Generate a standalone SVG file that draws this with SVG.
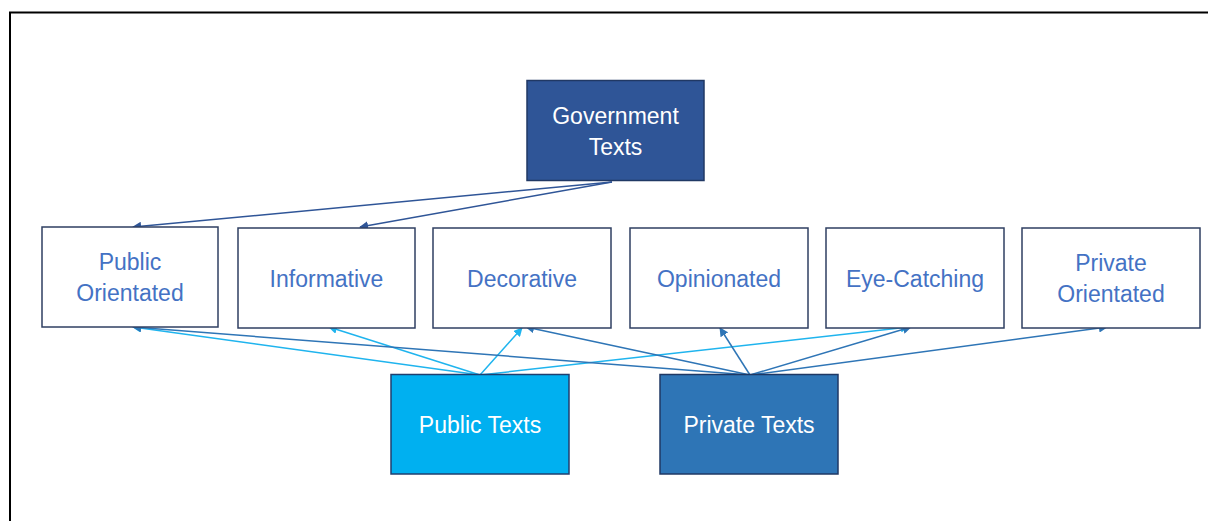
<svg xmlns="http://www.w3.org/2000/svg" width="1208" height="521" viewBox="0 0 1208 521">
<style>
.box{fill:#fff;stroke:#2F3F62;stroke-width:1.5}
.lbl{font-family:"Liberation Sans",Arial,sans-serif;font-size:23px;fill:#4472C4;text-anchor:middle}
.wl{font-family:"Liberation Sans",Arial,sans-serif;font-size:23px;fill:#fff;text-anchor:middle}
.gov{stroke:#2F5597;stroke-width:1.5;fill:none;marker-end:url(#ag)}
.pub{stroke:#1FB4EE;stroke-width:1.5;fill:none;marker-end:url(#ap)}
.pri{stroke:#2E75B6;stroke-width:1.5;fill:none;marker-end:url(#ar)}
</style>
<defs>
<marker id="ag" viewBox="0 0 10 10" refX="9" refY="5" markerWidth="6" markerHeight="6" markerUnits="strokeWidth" orient="auto"><path d="M0,0L10,5L0,10z" fill="#2F5597"/></marker>
<marker id="ap" viewBox="0 0 10 10" refX="9" refY="5" markerWidth="6" markerHeight="6" markerUnits="strokeWidth" orient="auto"><path d="M0,0L10,5L0,10z" fill="#1FB4EE"/></marker>
<marker id="ar" viewBox="0 0 10 10" refX="9" refY="5" markerWidth="6" markerHeight="6" markerUnits="strokeWidth" orient="auto"><path d="M0,0L10,5L0,10z" fill="#2E75B6"/></marker>
</defs>
<rect width="1208" height="521" fill="#fff"/>
<path d="M10,521V12.5H1208" fill="none" stroke="#000" stroke-width="2"/>
<g id="connectors">
<line class="gov" x1="612" y1="182" x2="133" y2="227"/>
<line class="gov" x1="612" y1="182" x2="360" y2="227"/>
<line class="pub" x1="480" y1="375" x2="133" y2="327"/>
<line class="pub" x1="480" y1="375" x2="329" y2="327"/>
<line class="pub" x1="480" y1="375" x2="522" y2="328"/>
<line class="pub" x1="480" y1="375" x2="909" y2="327"/>
<line class="pri" x1="750" y1="375" x2="133" y2="327"/>
<line class="pri" x1="750" y1="375" x2="526" y2="327"/>
<line class="pri" x1="750" y1="375" x2="720" y2="328"/>
<line class="pri" x1="750" y1="375" x2="911" y2="327"/>
<line class="pri" x1="750" y1="375" x2="1107" y2="327"/>
</g>
<g id="government">
<rect x="527" y="80.5" width="177" height="100" fill="#2F5597" stroke="#203864" stroke-width="1.5"/>
<text class="wl" x="615.5" y="123.5">Government</text>
<text class="wl" x="615.5" y="154.5">Texts</text>
</g>
<g id="public-orientated">
<rect class="box" x="42" y="227" width="176" height="100"/>
<text class="lbl" x="130" y="270">Public</text>
<text class="lbl" x="130" y="301">Orientated</text>
</g>
<g id="informative">
<rect class="box" x="238" y="228" width="177" height="100"/>
<text class="lbl" x="326.5" y="287">Informative</text>
</g>
<g id="decorative">
<rect class="box" x="433" y="228" width="178" height="100"/>
<text class="lbl" x="522" y="287">Decorative</text>
</g>
<g id="opinionated">
<rect class="box" x="630" y="228" width="178" height="100"/>
<text class="lbl" x="719" y="287">Opinionated</text>
</g>
<g id="eye-catching">
<rect class="box" x="826" y="228" width="178" height="100"/>
<text class="lbl" x="915" y="287">Eye-Catching</text>
</g>
<g id="private-orientated">
<rect class="box" x="1022" y="228" width="178" height="100"/>
<text class="lbl" x="1111" y="271">Private</text>
<text class="lbl" x="1111" y="302">Orientated</text>
</g>
<g id="public-texts">
<rect x="391" y="374.5" width="178" height="99.5" fill="#00B0F0" stroke="#1F3F6F" stroke-width="1.5"/>
<text class="wl" x="480" y="433">Public Texts</text>
</g>
<g id="private-texts">
<rect x="660" y="374.5" width="178" height="99.5" fill="#2E75B6" stroke="#1F3864" stroke-width="1.5"/>
<text class="wl" x="749" y="433">Private Texts</text>
</g>
</svg>
